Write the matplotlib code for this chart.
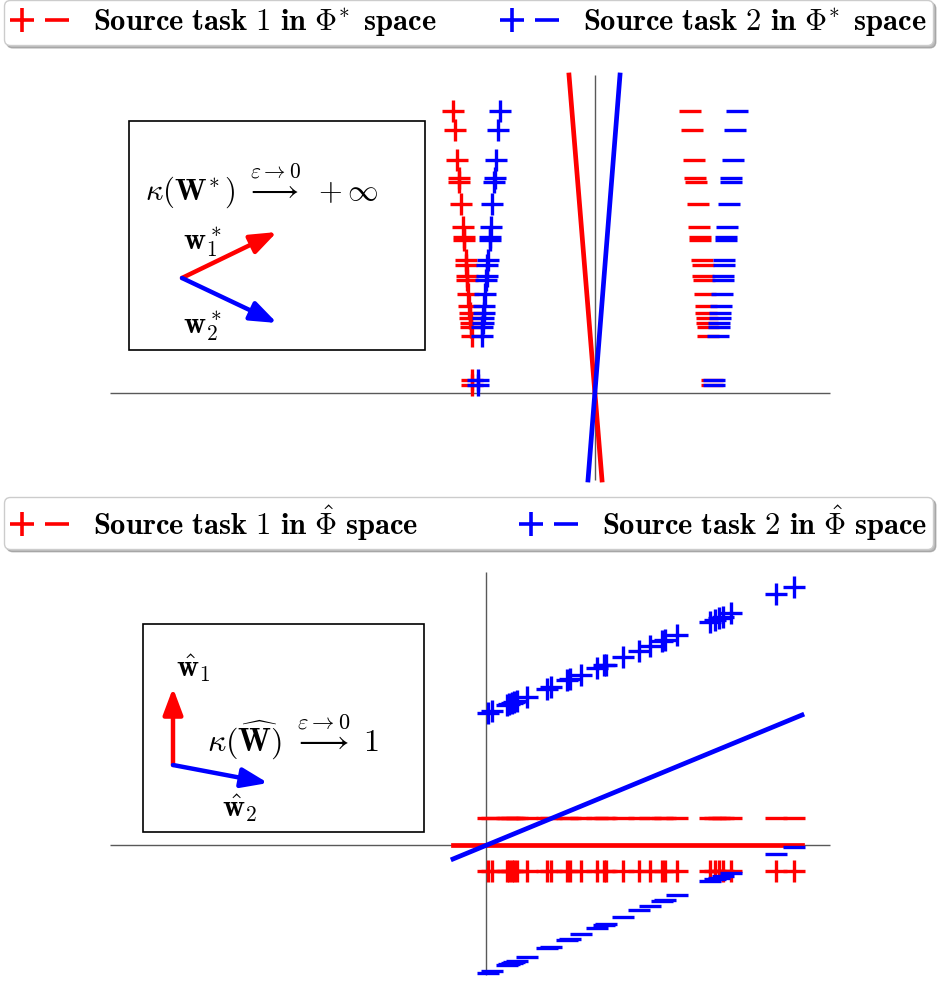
"""
Two-panel sketch: source tasks in the true feature space (Phi*) versus the
learned feature space (Phi-hat), with the condition-number insets.
"""

import matplotlib.pyplot as plt
from matplotlib.lines import Line2D
from matplotlib.patches import Rectangle
from matplotlib.legend_handler import HandlerTuple

# =============================================================================
# DATA (units: 1 = 100 px of the original figure, origin at each panel's axes)
# =============================================================================
# --- top panel: samples in Phi* space ---
top_y = [2.82, 2.63, 2.33, 2.15, 2.11, 1.89, 1.66, 1.56, 1.53, 1.33, 1.28,
         1.17, 1.13, 0.99, 0.87, 0.80, 0.75, 0.70, 0.66, 0.57, 0.13, 0.08]
top_t1_plus_x = [-1.42, -1.40, -1.38, -1.36, -1.36, -1.34, -1.32, -1.31, -1.31, -1.29, -1.29,
                 -1.28, -1.28, -1.27, -1.26, -1.25, -1.25, -1.24, -1.24, -1.23, -1.23, -1.23]
top_t1_minus_x = [0.95, 0.97, 0.99, 1.00, 1.01, 1.03, 1.04, 1.05, 1.05, 1.07, 1.08,
                  1.08, 1.09, 1.10, 1.11, 1.11, 1.12, 1.12, 1.13, 1.13, 1.17, 1.17]
top_t2_plus_x = [-0.95, -0.97, -0.99, -1.00, -1.01, -1.03, -1.04, -1.05, -1.05, -1.07, -1.08,
                 -1.08, -1.09, -1.10, -1.11, -1.11, -1.12, -1.12, -1.13, -1.13, -1.17, -1.17]
top_t2_minus_x = [1.42, 1.40, 1.38, 1.36, 1.36, 1.34, 1.32, 1.31, 1.31, 1.29, 1.29,
                  1.28, 1.28, 1.27, 1.26, 1.25, 1.25, 1.24, 1.24, 1.23, 1.19, 1.19]
# separating lines of the two tasks (endpoints)
top_line_y = [3.18, -0.87]
top_line1_x = [-0.26, 0.07]
top_line2_x = [0.25, -0.07]

# --- bottom panel: samples in Phi-hat space ---
bot_x = [0.015, 0.06, 0.21, 0.23, 0.255, 0.28, 0.31, 0.41, 0.61, 0.645, 0.813,
         0.843, 0.95, 1.11, 1.18, 1.20, 1.373, 1.53, 1.64, 1.76, 1.785, 1.905,
         2.24, 2.285, 2.33, 2.365, 2.45, 2.903, 3.08]
bot_t1_plus_y = [-0.26] * len(bot_x)
bot_t1_minus_y = [0.27] * len(bot_x)
bot_t2_plus_y = [1.32, 1.34, 1.40, 1.41, 1.42, 1.43, 1.44, 1.48, 1.56, 1.58, 1.65,
                 1.66, 1.70, 1.77, 1.80, 1.80, 1.88, 1.94, 1.99, 2.04, 2.05, 2.10,
                 2.23, 2.25, 2.27, 2.28, 2.32, 2.51, 2.58]
bot_t2_minus_y = [-1.28, -1.26, -1.20, -1.19, -1.18, -1.17, -1.16, -1.12, -1.03, -1.02, -0.95,
                  -0.94, -0.89, -0.83, -0.80, -0.79, -0.72, -0.65, -0.61, -0.56, -0.55, -0.50,
                  -0.36, -0.34, -0.33, -0.31, -0.28, -0.09, -0.02]
bot_line_x = [-0.33, 3.16]
bot_line1_y = [0.0, 0.0]
bot_line2_y = [-0.14, 1.30]

C1, C2 = 'red', 'blue'
AX_COLOR = '0.35'
MS, MEW = 15.5, 2.4

W_PX, H_PX, DPI = 938, 981, 100


def px_axes(fig, top, bottom, ox, oy):
    """Axes spanning rows [top, bottom] px, 1 data unit = 100 px, origin at (ox, oy) px."""
    ax = fig.add_axes([0, 1 - bottom / H_PX, 1, (bottom - top) / H_PX])
    ax.set_xlim(-ox / 100, (W_PX - ox) / 100)
    ax.set_ylim((oy - bottom) / 100, (oy - top) / 100)
    ax.axis('off')
    return ax


def scatter_task(ax, x, y, color, marker):
    ax.plot(x, y, ls='none', marker=marker, ms=MS, mew=MEW, color=color)


def arrow(ax, start, end, color):
    ax.annotate('', xy=end, xytext=start,
                arrowprops=dict(arrowstyle='-|>,head_length=0.8,head_width=0.3',
                                mutation_scale=20, color=color, lw=3.2,
                                shrinkA=0, shrinkB=0))


def legend(fig, y_top_px, space):
    handles = []
    for c in (C1, C2):
        plus = Line2D([], [], ls='none', marker='+', ms=17, mew=2.6, color=c)
        minus = Line2D([], [], ls='none', marker='_', ms=17, mew=2.6, color=c)
        handles.append((plus, minus))
    labels = [rf'$\mathbf{{Source\ task\ {i}\ in}}\ {space}\ \mathbf{{space}}$' for i in (1, 2)]
    fig.legend(handles, labels, handler_map={tuple: HandlerTuple(ndivide=None, pad=0.4)},
               loc='upper left', mode='expand', ncol=2,
               bbox_to_anchor=(4 / W_PX, 0, 929 / W_PX, 1 - y_top_px / H_PX),
               borderaxespad=0, borderpad=0.2, fontsize=22, handlelength=1.9,
               handletextpad=0.8, fancybox=True, shadow={'color': '0.55', 'alpha': 0.6},
               edgecolor='0.8', framealpha=1)


def plot_top(fig):
    ax = px_axes(fig, 50, 490, 595, 393)
    ax.hlines(0, -4.85, 2.35, color=AX_COLOR, lw=1)
    ax.vlines(0, -0.87, 3.18, color=AX_COLOR, lw=1)
    scatter_task(ax, top_t1_plus_x, top_y, C1, '+')
    scatter_task(ax, top_t1_minus_x, top_y, C1, '_')
    ax.plot(top_line1_x, top_line_y, color=C1, lw=3.4)
    scatter_task(ax, top_t2_plus_x, top_y, C2, '+')
    scatter_task(ax, top_t2_minus_x, top_y, C2, '_')
    ax.plot(top_line2_x, top_line_y, color=C2, lw=3.4)

    # inset: condition number of W*
    ax.add_patch(Rectangle((-4.66, 0.43), 2.96, 2.29, fill=False, ec='black', lw=1.2))
    ax.text(-3.33, 2.06, r'$\kappa(\mathbf{W}^{\!*})\ \overset{\varepsilon\to 0}{\longrightarrow}\ +\infty$',
            ha='center', va='center', fontsize=22)
    arrow(ax, (-4.13, 1.15), (-3.18, 1.61), C1)
    arrow(ax, (-4.13, 1.15), (-3.18, 0.70), C2)
    ax.text(-3.93, 1.50, r'$\mathbf{w}_1^*$', ha='center', va='center', fontsize=22)
    ax.text(-3.93, 0.66, r'$\mathbf{w}_2^*$', ha='center', va='center', fontsize=22)


def plot_bottom(fig):
    ax = px_axes(fig, 550, 981, 486, 845)
    ax.hlines(0, -3.76, 3.44, color=AX_COLOR, lw=1)
    ax.vlines(0, -1.30, 2.73, color=AX_COLOR, lw=1)
    scatter_task(ax, bot_x, bot_t1_plus_y, C1, '+')
    scatter_task(ax, bot_x, bot_t1_minus_y, C1, '_')
    ax.plot(bot_line_x, bot_line1_y, color=C1, lw=3.4)
    scatter_task(ax, bot_x, bot_t2_plus_y, C2, '+')
    scatter_task(ax, bot_x, bot_t2_minus_y, C2, '_')
    ax.plot(bot_line_x, bot_line2_y, color=C2, lw=3.4)

    # inset: condition number of W-hat
    ax.add_patch(Rectangle((-3.43, 0.13), 2.81, 2.08, fill=False, ec='black', lw=1.2))
    ax.text(-1.93, 1.07, r'$\kappa(\widehat{\mathbf{W}})\ \overset{\varepsilon\to 0}{\longrightarrow}\ 1$',
            ha='center', va='center', fontsize=23)
    arrow(ax, (-3.13, 0.80), (-3.13, 1.57), C1)
    arrow(ax, (-3.13, 0.80), (-2.18, 0.62), C2)
    ax.text(-2.93, 1.77, r'$\hat{\mathbf{w}}_1$', ha='center', va='center', fontsize=22)
    ax.text(-2.46, 0.37, r'$\hat{\mathbf{w}}_2$', ha='center', va='center', fontsize=22)


def main():
    plt.rcParams.update({"mathtext.fontset": "cm", "font.family": "serif"})
    fig = plt.figure(figsize=(W_PX / DPI, H_PX / DPI), dpi=DPI)
    plot_top(fig)
    plot_bottom(fig)
    legend(fig, 0, r'\Phi^{\!*}')
    legend(fig, 497, r'\hat{\Phi}')
    fig.savefig('out.png', dpi=DPI)


if __name__ == "__main__":
    main()
